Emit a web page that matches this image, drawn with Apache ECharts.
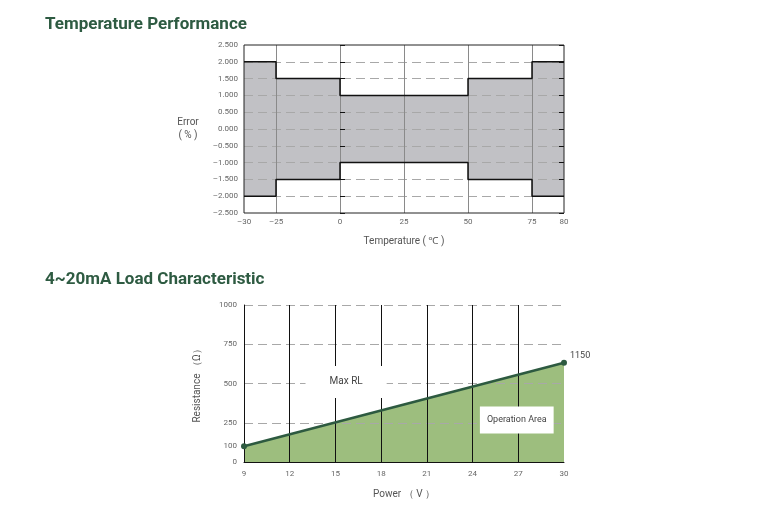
<!DOCTYPE html>
<html>
<head>
<meta charset="utf-8">
<script src="https://cdn.jsdelivr.net/npm/echarts@6/dist/echarts.min.js"></script>
<style>
  html, body { margin: 0; padding: 0; background: #fff; }
  #chart { width: 769px; height: 505px; }
</style>
</head>
<body>
<div id="chart"></div>
<script>
  // 温度性能
  const tempBreaks = [-30, -25, 0, 50, 75, 80]
  const errUpper = [2, 1.5, 1, 1.5, 2, 2]
  const errLower = [-2, -1.5, -1, -1.5, -2, -2]
  const tempTicks = [-30, -25, 0, 25, 50, 75, 80]

  // 负载特性
  const powerV = [9, 30]
  const maxRL = [100, 632]
  const maxRLEndText = '1150'
  const resTicks = [0, 100, 250, 500, 750, 1000]

  const titleColor = '#2e5b42'
  const labelColor = '#666'
  const fontFamily = 'Roboto, "Noto Sans", sans-serif'

  // 两端(-30~-25, 75~80)在图上被拉宽
  function toAxis(t) {
    if (t < -25) return -25 + (t + 25) * 2.5
    if (t > 75) return 75 + (t - 75) * 2.5
    return t
  }
  function fromAxis(v) {
    if (v < -25) return -25 + (v + 25) / 2.5
    if (v > 75) return 75 + (v - 75) / 2.5
    return v
  }
  function dash(s) {
    return String(s).replace('-', '–')
  }

  const lowerPts = tempBreaks.map((t, i) => [toAxis(t), errLower[i]])
  const upperPts = tempBreaks.map((t, i) => [toAxis(t), errUpper[i]])

  const chart = echarts.init(document.getElementById('chart'))
  chart.setOption({
    animation: false,
    textStyle: { fontFamily: fontFamily },
    title: [
      {
        text: 'Temperature Performance',
        left: 40,
        top: 11,
        textStyle: { color: titleColor, fontSize: 17, fontWeight: 'bold', fontFamily: fontFamily }
      },
      {
        text: '4~20mA Load Characteristic',
        left: 40,
        top: 266,
        textStyle: { color: titleColor, fontSize: 17, fontWeight: 'bold', fontFamily: fontFamily }
      }
    ],
    grid: [
      { left: 244, right: 205, top: 45, bottom: 292, show: true, z: 4, borderColor: '#222', borderWidth: 1, backgroundColor: 'transparent' },
      { left: 244, right: 205, top: 305, bottom: 43 }
    ],
    xAxis: [
      {
        type: 'value',
        gridIndex: 0,
        min: toAxis(-30),
        max: toAxis(80),
        z: 3,
        name: 'Temperature ( ℃ )',
        nameLocation: 'middle',
        nameGap: 23,
        nameTextStyle: { color: '#555', fontSize: 10 },
        axisLine: { show: false },
        axisTick: { show: false, customValues: tempTicks.map(toAxis) },
        axisLabel: {
          customValues: tempTicks.map(toAxis),
          color: labelColor,
          fontSize: 8,
          margin: 5,
          formatter: v => dash(Math.round(fromAxis(v)))
        },
        splitLine: { show: true, showMinLine: false, showMaxLine: false, lineStyle: { color: '#8a8a8a', width: 1 } }
      },
      {
        type: 'value',
        gridIndex: 1,
        min: 9,
        max: 30,
        interval: 3,
        z: 3,
        name: 'Power （ V ）',
        nameLocation: 'middle',
        nameGap: 27,
        nameTextStyle: { color: '#555', fontSize: 10 },
        axisLine: { show: true, lineStyle: { color: '#111', width: 1 } },
        axisTick: { show: false },
        axisLabel: { color: labelColor, fontSize: 8, margin: 8 },
        splitLine: { show: true, showMinLine: false, showMaxLine: false, lineStyle: { color: '#111', width: 1 } }
      }
    ],
    yAxis: [
      {
        type: 'value',
        gridIndex: 0,
        min: -2.5,
        max: 2.5,
        interval: 0.5,
        z: 3,
        name: 'Error\n( % )',
        nameLocation: 'middle',
        nameRotate: 0,
        nameGap: 56,
        nameTextStyle: { color: '#555', fontSize: 10, align: 'center', lineHeight: 13 },
        axisLine: { show: false },
        axisTick: { show: true, inside: true, length: 5, lineStyle: { color: '#111' } },
        axisLabel: { color: labelColor, fontSize: 8, margin: 6, formatter: v => dash(v.toFixed(3)) },
        splitLine: { show: true, showMinLine: false, showMaxLine: false, lineStyle: { color: '#a8a8a8', type: [9, 5], width: 1 } }
      },
      {
        type: 'value',
        gridIndex: 0,
        position: 'right',
        min: -2.5,
        max: 2.5,
        interval: 0.5,
        z: 3,
        axisLine: { show: false },
        axisTick: { show: true, inside: true, length: 5, lineStyle: { color: '#111' } },
        axisLabel: { show: false },
        splitLine: { show: false }
      },
      {
        type: 'value',
        gridIndex: 1,
        min: 0,
        max: 1000,
        interval: 250,
        z: 3,
        name: 'Resistance （Ω）',
        nameLocation: 'middle',
        nameGap: 42,
        nameTextStyle: { color: '#555', fontSize: 10 },
        axisLine: { show: true, lineStyle: { color: '#111', width: 1 } },
        axisTick: { show: false },
        axisLabel: { customValues: resTicks, color: labelColor, fontSize: 8, margin: 7, formatter: v => String(v) },
        splitLine: { show: true, showMinLine: false, lineStyle: { color: '#a8a8a8', type: [9, 5], width: 1 } }
      }
    ],
    series: [
      // 上限、下限各自填到 0，合起来就是灰色误差带
      {
        name: 'upperFill',
        type: 'line',
        xAxisIndex: 0,
        yAxisIndex: 0,
        step: 'end',
        symbol: 'none',
        lineStyle: { width: 0 },
        areaStyle: { color: '#c1c1c5', opacity: 1, origin: 0 },
        z: 1,
        data: upperPts
      },
      {
        name: 'lowerFill',
        type: 'line',
        xAxisIndex: 0,
        yAxisIndex: 0,
        step: 'end',
        symbol: 'none',
        lineStyle: { width: 0 },
        areaStyle: { color: '#c1c1c5', opacity: 1, origin: 0 },
        z: 1,
        data: lowerPts
      },
      {
        name: 'upper',
        type: 'line',
        xAxisIndex: 0,
        yAxisIndex: 0,
        step: 'end',
        symbol: 'none',
        lineStyle: { color: '#111', width: 1.5 },
        z: 5,
        data: upperPts
      },
      {
        name: 'lower',
        type: 'line',
        xAxisIndex: 0,
        yAxisIndex: 0,
        step: 'end',
        symbol: 'none',
        lineStyle: { color: '#111', width: 1.5 },
        z: 5,
        data: lowerPts
      },
      // 工作区域
      {
        name: 'area',
        type: 'line',
        xAxisIndex: 1,
        yAxisIndex: 2,
        symbol: 'none',
        lineStyle: { width: 0 },
        areaStyle: { color: '#9dbe7e', opacity: 1 },
        z: 1,
        data: powerV.map((v, i) => [v, maxRL[i]]),
        markPoint: {
          symbol: 'rect',
          symbolSize: 0,
          z: 6,
          label: { show: true, position: 'inside', color: '#444' },
          data: [
            {
              coord: [15.7, 510],
              label: { formatter: 'Max RL', fontSize: 10, backgroundColor: '#fff', padding: [11, 24] }
            },
            {
              coord: [26.9, 267],
              label: { formatter: 'Operation Area', fontSize: 9, backgroundColor: '#fff', padding: [9, 7] }
            }
          ]
        }
      },
      {
        name: 'Max RL',
        type: 'line',
        xAxisIndex: 1,
        yAxisIndex: 2,
        symbol: 'circle',
        symbolSize: 6,
        lineStyle: { color: '#2d5a40', width: 2.5 },
        itemStyle: { color: '#2d5a40' },
        z: 5,
        data: powerV.map((v, i) => [v, maxRL[i]]),
        label: {
          show: true,
          position: 'right',
          distance: 3,
          offset: [0, -7],
          color: '#444',
          fontSize: 9,
          formatter: p => (p.dataIndex === maxRL.length - 1 ? maxRLEndText : '')
        }
      }
    ]
  })
</script>
</body>
</html>
